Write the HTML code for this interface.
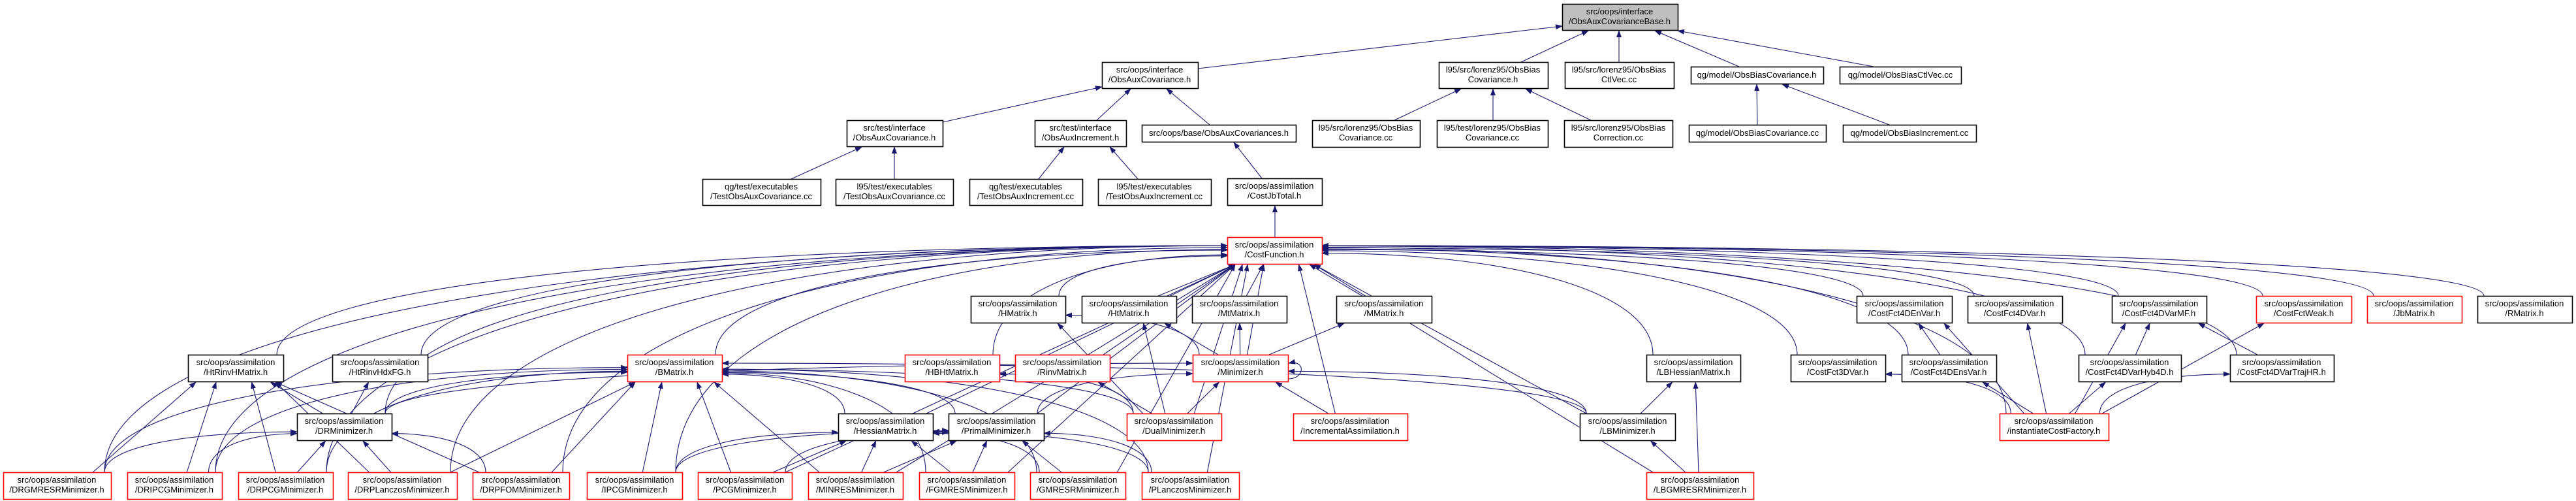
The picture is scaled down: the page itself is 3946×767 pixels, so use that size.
<!DOCTYPE html>
<html><head><meta charset="utf-8"><style>
html,body{margin:0;padding:0;background:#fff;}
svg{display:block}
text{font-family:"Liberation Sans",Arial,sans-serif;font-size:13px;fill:#000;text-anchor:middle}
</style></head><body>
<svg id="g" width="3946" height="767" viewBox="0 0 3946 767" xmlns="http://www.w3.org/2000/svg">
<defs><marker id="a" markerWidth="11" markerHeight="8" refX="10" refY="4" orient="auto" markerUnits="userSpaceOnUse"><path d="M0,0 L11,4 L0,8 z" fill="#191970"/></marker></defs>
<g id="edges" fill="none" stroke="#191970" stroke-width="1.1"></g>
<g id="nodes"></g>
<g id="labels">
<text x="2481" y="22">src/oops/interface</text><text x="2481" y="37">/ObsAuxCovarianceBase.h</text>
<text x="1761" y="111">src/oops/interface</text><text x="1761" y="126">/ObsAuxCovariance.h</text>
<text x="2287" y="111">l95/src/lorenz95/ObsBias</text><text x="2287" y="126">Covariance.h</text>
<text x="2480" y="111">l95/src/lorenz95/ObsBias</text><text x="2480" y="126">CtlVec.cc</text>
<text x="2691" y="119">qg/model/ObsBiasCovariance.h</text>
<text x="2911" y="119">qg/model/ObsBiasCtlVec.cc</text>
<text x="1370" y="200">src/test/interface</text><text x="1370" y="215">/ObsAuxCovariance.h</text>
<text x="1655" y="200">src/test/interface</text><text x="1655" y="215">/ObsAuxIncrement.h</text>
<text x="1867" y="208">src/oops/base/ObsAuxCovariances.h</text>
<text x="2092" y="200">l95/src/lorenz95/ObsBias</text><text x="2092" y="215">Covariance.cc</text>
<text x="2286" y="200">l95/test/lorenz95/ObsBias</text><text x="2286" y="215">Covariance.cc</text>
<text x="2479" y="200">l95/src/lorenz95/ObsBias</text><text x="2479" y="215">Correction.cc</text>
<text x="2692" y="208">qg/model/ObsBiasCovariance.cc</text>
<text x="2925" y="208">qg/model/ObsBiasIncrement.cc</text>
<text x="1166" y="290">qg/test/executables</text><text x="1166" y="305">/TestObsAuxCovariance.cc</text>
<text x="1370" y="290">l95/test/executables</text><text x="1370" y="305">/TestObsAuxCovariance.cc</text>
<text x="1571" y="290">qg/test/executables</text><text x="1571" y="305">/TestObsAuxIncrement.cc</text>
<text x="1768" y="290">l95/test/executables</text><text x="1768" y="305">/TestObsAuxIncrement.cc</text>
<text x="1952" y="289">src/oops/assimilation</text><text x="1952" y="304">/CostJbTotal.h</text>
<text x="1952" y="379">src/oops/assimilation</text><text x="1952" y="394">/CostFunction.h</text>
<text x="1559" y="469">src/oops/assimilation</text><text x="1559" y="484">/HMatrix.h</text>
<text x="1729" y="469">src/oops/assimilation</text><text x="1729" y="484">/HtMatrix.h</text>
<text x="1898" y="469">src/oops/assimilation</text><text x="1898" y="484">/MtMatrix.h</text>
<text x="2120" y="469">src/oops/assimilation</text><text x="2120" y="484">/MMatrix.h</text>
<text x="2917" y="469">src/oops/assimilation</text><text x="2917" y="484">/CostFct4DEnVar.h</text>
<text x="3086" y="469">src/oops/assimilation</text><text x="3086" y="484">/CostFct4DVar.h</text>
<text x="3307" y="469">src/oops/assimilation</text><text x="3307" y="484">/CostFct4DVarMF.h</text>
<text x="3529" y="469">src/oops/assimilation</text><text x="3529" y="484">/CostFctWeak.h</text>
<text x="3698" y="469">src/oops/assimilation</text><text x="3698" y="484">/JbMatrix.h</text>
<text x="3867" y="469">src/oops/assimilation</text><text x="3867" y="484">/RMatrix.h</text>
<text x="361" y="559">src/oops/assimilation</text><text x="361" y="574">/HtRinvHMatrix.h</text>
<text x="582" y="559">src/oops/assimilation</text><text x="582" y="574">/HtRinvHdxFG.h</text>
<text x="1033" y="559">src/oops/assimilation</text><text x="1033" y="574">/BMatrix.h</text>
<text x="1458" y="559">src/oops/assimilation</text><text x="1458" y="574">/HBHtMatrix.h</text>
<text x="1627" y="559">src/oops/assimilation</text><text x="1627" y="574">/RinvMatrix.h</text>
<text x="1900" y="559">src/oops/assimilation</text><text x="1900" y="574">/Minimizer.h</text>
<text x="2594" y="559">src/oops/assimilation</text><text x="2594" y="574">/LBHessianMatrix.h</text>
<text x="2815" y="559">src/oops/assimilation</text><text x="2815" y="574">/CostFct3DVar.h</text>
<text x="2985" y="559">src/oops/assimilation</text><text x="2985" y="574">/CostFct4DEnsVar.h</text>
<text x="3262" y="559">src/oops/assimilation</text><text x="3262" y="574">/CostFct4DVarHyb4D.h</text>
<text x="3495" y="559">src/oops/assimilation</text><text x="3495" y="574">/CostFct4DVarTrajHR.h</text>
<text x="527" y="649">src/oops/assimilation</text><text x="527" y="664">/DRMinimizer.h</text>
<text x="1356" y="649">src/oops/assimilation</text><text x="1356" y="664">/HessianMatrix.h</text>
<text x="1526" y="649">src/oops/assimilation</text><text x="1526" y="664">/PrimalMinimizer.h</text>
<text x="1798" y="649">src/oops/assimilation</text><text x="1798" y="664">/DualMinimizer.h</text>
<text x="2068" y="649">src/oops/assimilation</text><text x="2068" y="664">/IncrementalAssimilation.h</text>
<text x="2493" y="649">src/oops/assimilation</text><text x="2493" y="664">/LBMinimizer.h</text>
<text x="3146" y="649">src/oops/assimilation</text><text x="3146" y="664">/instantiateCostFactory.h</text>
<text x="87" y="739">src/oops/assimilation</text><text x="87" y="754">/DRGMRESRMinimizer.h</text>
<text x="267" y="739">src/oops/assimilation</text><text x="267" y="754">/DRIPCGMinimizer.h</text>
<text x="437" y="739">src/oops/assimilation</text><text x="437" y="754">/DRPCGMinimizer.h</text>
<text x="616" y="739">src/oops/assimilation</text><text x="616" y="754">/DRPLanczosMinimizer.h</text>
<text x="798" y="739">src/oops/assimilation</text><text x="798" y="754">/DRPFOMMinimizer.h</text>
<text x="972" y="739">src/oops/assimilation</text><text x="972" y="754">/IPCGMinimizer.h</text>
<text x="1141" y="739">src/oops/assimilation</text><text x="1141" y="754">/PCGMinimizer.h</text>
<text x="1310" y="739">src/oops/assimilation</text><text x="1310" y="754">/MINRESMinimizer.h</text>
<text x="1481" y="739">src/oops/assimilation</text><text x="1481" y="754">/FGMRESMinimizer.h</text>
<text x="1651" y="739">src/oops/assimilation</text><text x="1651" y="754">/GMRESRMinimizer.h</text>
<text x="1823" y="739">src/oops/assimilation</text><text x="1823" y="754">/PLanczosMinimizer.h</text>
<text x="2604" y="739">src/oops/assimilation</text><text x="2604" y="754">/LBGMRESRMinimizer.h</text>
</g>
</svg>
<script>
var N={
root:[2393,2570,6,46,'g'],
oac:[1688,1835,95,135],lbc:[2204,2371,95,135],lctl:[2397,2564,95,135],qbc:[2590,2793,102,128],qctl:[2818,3004,102,128],
toac:[1297,1444,184,224],toai:[1585,1725,184,224],oacs:[1749,1985,191,217],lbccc:[2010,2175,184,225],ltbc:[2201,2371,184,225],lcorr:[2396,2562,184,225],qbccc:[2587,2797,191,217],qinc:[2823,3027,191,217],
qtc:[1076,1257,274,314],ltc:[1280,1460,274,314],qti:[1485,1658,274,314],lti:[1682,1855,274,314],jb:[1880,2025,273,314],
cf:[1880,2025,363,404,'r'],
hm:[1487,1632,453,494],htm:[1657,1802,453,494],mtm:[1826,1971,453,494],mm:[2047,2193,453,494],envar:[2844,2990,453,494],v4:[3014,3159,453,494],mf:[3235,3380,453,494],weak:[3456,3602,453,494,'r'],jbm:[3626,3771,453,494,'r'],rm:[3795,3940,453,494],
hrh:[288,434,543,584],hdx:[509,655,543,584],bm:[961,1106,543,584,'r'],hbh:[1386,1531,543,584,'r'],rinv:[1555,1700,543,584,'r'],min:[1827,1973,543,584,'r'],lbh:[2522,2666,543,584],v3:[2743,2888,543,584],ens:[2913,3058,543,584],hyb:[3184,3341,543,584],traj:[3416,3575,543,584],
drm:[455,600,633,674],hes:[1284,1429,633,674],prim:[1453,1599,633,674],dual:[1726,1871,633,674,'r'],inc:[1981,2156,633,674,'r'],lbm:[2420,2566,633,674],inst:[3063,3230,633,674,'r'],
dg:[5,170,723,764,'r'],dip:[195,340,723,764,'r'],dp:[365,510,723,764,'r'],dl:[533,700,723,764,'r'],df:[724,872,723,764,'r'],ip:[899,1045,723,764,'r'],pc:[1069,1213,723,764,'r'],mr:[1238,1383,723,764,'r'],fg:[1408,1554,723,764,'r'],gm:[1578,1724,723,764,'r'],pl:[1749,1898,723,764,'r'],lbg:[2522,2686,723,764,'r']
};
var ns='http://www.w3.org/2000/svg';
var gn=document.getElementById('nodes'),ge=document.getElementById('edges');
for(var k in N){var n=N[k];var r=document.createElementNS(ns,'rect');
r.setAttribute('x',n[0]+.5);r.setAttribute('y',n[2]+.5);r.setAttribute('width',n[1]-n[0]);r.setAttribute('height',n[3]-n[2]);
r.setAttribute('fill',n[4]=='g'?'#bfbfbf':'#fff');r.setAttribute('stroke',n[4]=='r'?'#ff0000':'#000');r.setAttribute('stroke-width','1.6');gn.appendChild(r);}
function P(d){var p=document.createElementNS(ns,'path');p.setAttribute('d',d);p.setAttribute('marker-end','url(#a)');ge.appendChild(p);}
function cl(v,a,b){return Math.max(a,Math.min(b,v));}
function E(c,p){var C=N[c],Q=N[p];var cx=(C[0]+C[1])/2,px=(Q[0]+Q[1])/2;
var sx=cl(cx+(px-cx)*0.2,C[0]+10,C[1]-10),sy=C[2];
var dy=sy-Q[3];var hx=sx<Q[0]?Q[0]-sx:(sx>Q[1]?sx-Q[1]:0);
if(hx>Math.max(dy,40)*2.2){var ex=sx<Q[0]?Q[0]:Q[1];var ey=Q[3]-8-Math.min(20,hx/60);
P('M'+sx+','+sy+' C'+sx+','+(ey+(sy-ey)*0.35)+' '+(sx+(ex-sx)*0.45)+','+ey+' '+ex+','+ey);}
else{var ex=cl(px+(sx-px)*0.4,Q[0]+12,Q[1]-12);var ey=Q[3]+1;
P('M'+sx+','+sy+' L'+ex+','+ey);}}
function L(x1,y1,x2,y2){P('M'+x1+','+y1+' L'+x2+','+y2);}
L(1835,105,2393,40);L(2330,95,2433,47);L(2480,95,2480,47);L(2664,102,2535,47);L(2870,102,2570,47);
L(1444,187,1688,133);L(1680,184,1732,136);L(1853,191,1787,136);
L(2136,184,2238,136);L(2287,184,2287,136);L(2437,184,2337,136);
L(2692,191,2691,129);L(2894,191,2730,129);
L(1212,274,1320,225);L(1370,274,1370,225);L(1591,274,1630,225);L(1743,274,1700,225);
L(1933,273,1890,218);L(1953,363,1953,315);
['hrh','hdx','drm','dg','dip','dp','dl','df','ip','bm','pc','mr','fg','gm','pl','hm','htm','mtm','hbh','rinv','min','mm','hes','prim','dual','inc','lbh','lbm','lbg','v3','envar','ens','v4','mf','hyb','traj','weak','jbm','rm','inst'].forEach(function(c){E(c,'cf');});
['dg','dip','dp','dl','df','drm'].forEach(function(c){E(c,'hrh');});
E('drm','hdx');
['dg','dip','dp','dl','df'].forEach(function(c){E(c,'drm');});
['dg','dip','dp','dl','df','ip','pc','mr','fg','gm','pl','drm','hes','prim','dual','lbm'].forEach(function(c){E(c,'bm');});
['drm','prim','dual','inc','lbm'].forEach(function(c){E(c,'min');});
['hm','htm','mtm','mm'].forEach(function(p){E('min',p);});
['hm','htm','hbh','rinv'].forEach(function(p){E('dual',p);});
['ip','pc','mr','fg','gm','pl'].forEach(function(c){E(c,'hes');E(c,'prim');});
E('lbm','lbh');E('lbg','lbh');E('lbg','lbm');
E('ens','envar');
['v3','envar','ens','v4','mf','hyb','traj','weak'].forEach(function(p){E('inst',p);});
E('hyb','mf');E('traj','mf');
P('M1973,580 C2000,580 2000,550 1974,556');
</script>
</body></html>
